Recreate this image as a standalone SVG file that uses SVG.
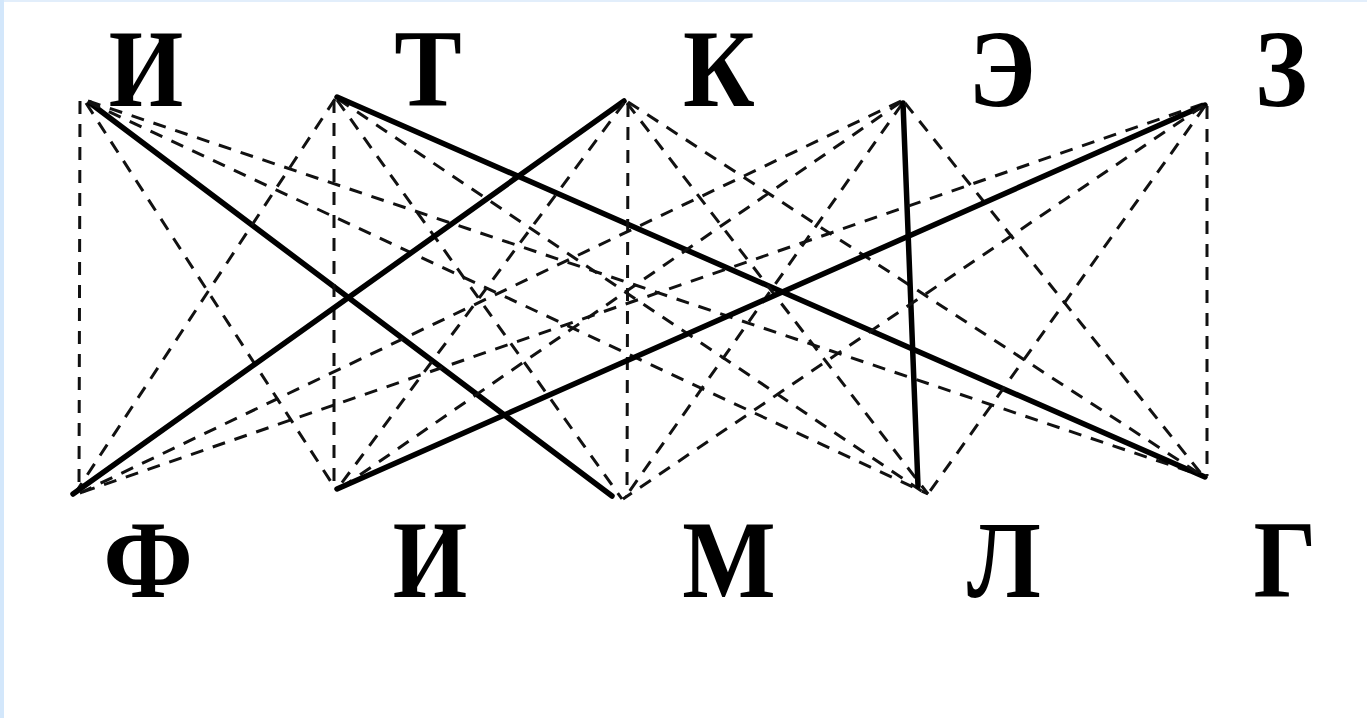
<svg xmlns="http://www.w3.org/2000/svg" width="1367" height="718" viewBox="0 0 1367 718">
<style>
.lbl{font-family:"Liberation Serif","Times New Roman",serif;font-weight:bold;font-size:110px;fill:#000;text-anchor:middle}
.d{stroke:#111;stroke-width:3;stroke-dasharray:13 10;fill:none;stroke-linecap:butt}
.s{stroke:#000;stroke-width:5.5;fill:none;stroke-linecap:round}
</style>
<rect x="0" y="0" width="1367" height="718" fill="#ffffff"/>
<rect x="0" y="0" width="1367" height="2" fill="#e2eefb"/>
<rect x="0" y="0" width="4" height="718" fill="#d3e7fb"/>
<g id="connectors">
  <!-- from И (top) -->
  <line class="d" x1="80" y1="101" x2="79" y2="492"/>
  <line class="d" x1="86" y1="103" x2="335" y2="488"/>
  <line class="s" x1="90" y1="103" x2="612" y2="496"/>
  <line class="d" x1="88" y1="102" x2="928" y2="494"/>
  <line class="d" x1="88" y1="101" x2="1203" y2="476"/>
  <!-- from Т -->
  <line class="d" x1="335" y1="99" x2="76" y2="492"/>
  <line class="d" x1="334" y1="100" x2="334" y2="488"/>
  <line class="d" x1="337" y1="100" x2="622" y2="499"/>
  <line class="d" x1="338" y1="99" x2="926" y2="494"/>
  <line class="s" x1="337" y1="97" x2="1205" y2="477"/>
  <!-- from К -->
  <line class="s" x1="624" y1="101" x2="73" y2="494"/>
  <line class="d" x1="624" y1="103" x2="338" y2="488"/>
  <line class="d" x1="628" y1="104" x2="627" y2="496"/>
  <line class="d" x1="627" y1="103" x2="928" y2="494"/>
  <line class="d" x1="628" y1="102" x2="1203" y2="476"/>
  <!-- from Э -->
  <line class="d" x1="901" y1="101" x2="78" y2="494"/>
  <line class="d" x1="901" y1="102" x2="338" y2="490"/>
  <line class="d" x1="902" y1="104" x2="624" y2="499"/>
  <line class="s" x1="903" y1="103" x2="918" y2="486"/>
  <line class="d" x1="905" y1="103" x2="1203" y2="476"/>
  <!-- from З -->
  <line class="d" x1="1203" y1="104" x2="80" y2="493"/>
  <line class="s" x1="1205" y1="105" x2="337" y2="489"/>
  <line class="d" x1="1203" y1="106" x2="623" y2="499"/>
  <line class="d" x1="1205" y1="106" x2="928" y2="494"/>
  <line class="d" x1="1207" y1="106" x2="1207" y2="476"/>
</g>
<g id="top-I"><text class="lbl" transform="translate(146,106) scale(0.87,1)">И</text></g>
<g id="top-T"><text class="lbl" transform="translate(428,106) scale(0.92,1)">Т</text></g>
<g id="top-K"><text class="lbl" transform="translate(719,106) scale(0.9,1)">К</text></g>
<g id="top-E"><text class="lbl" transform="translate(1002,106) scale(0.9,1)">Э</text></g>
<g id="top-Z"><text class="lbl" transform="translate(1281,106) scale(0.9,1)">З</text></g>
<g id="bot-F"><text class="lbl" transform="translate(148,597) scale(0.95,1)">Ф</text></g>
<g id="bot-I"><text class="lbl" transform="translate(430,597) scale(0.87,1)">И</text></g>
<g id="bot-M"><text class="lbl" transform="translate(729,597) scale(0.9,1)">М</text></g>
<g id="bot-L"><text class="lbl" transform="translate(1004,597) scale(0.9,1)">Л</text></g>
<g id="bot-G"><text class="lbl" transform="translate(1285,597) scale(0.9,1)">Г</text></g>
</svg>
